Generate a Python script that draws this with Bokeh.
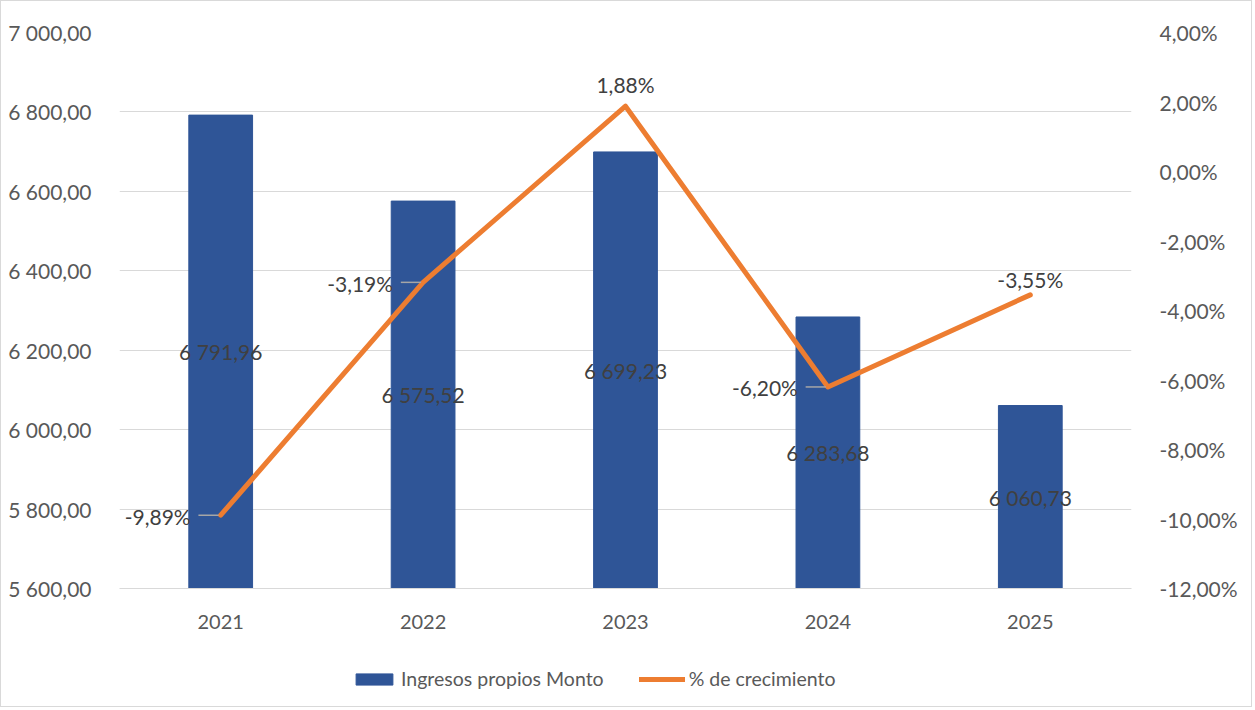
from bokeh.plotting import figure
from bokeh.layouts import column
from bokeh.models import Range1d, LinearAxis, FixedTicker, ColumnDataSource, Legend, LegendItem
from bokeh.embed import file_html
from bokeh.resources import INLINE
from bokeh.core.properties import value

years = ["2021", "2022", "2023", "2024", "2025"]
montos = [6791.96, 6575.52, 6699.23, 6283.68, 6060.73]
crecimiento = [-9.89, -3.19, 1.88, -6.20, -3.55]
left_ticks = [5600, 5800, 6000, 6200, 6400, 6600, 6800, 7000]
right_ticks = [-12, -10, -8, -6, -4, -2, 0, 2, 4]
series_names = ["Ingresos propios Monto", "% de crecimiento"]
pct_label_side = ["left", "left", "above", "left", "above"]
pct_label_lift = [0, 0, -9, 0, -3]

FONT = "Lato"
TXT = "#404040"
AX = "#595959"
BLUE = "#2F5597"
ORANGE = "#ED7D31"
GRID = "#D9D9D9"

def fmt_num(v):
    s = f"{v:,.2f}"
    return s.replace(",", " ").replace(".", ",")

def fmt_pct(v):
    return f"{v:.2f}".replace(".", ",") + "%"

x = list(range(len(years)))
y0 = left_ticks[0]

p = figure(frame_width=1012, frame_height=556, output_backend="svg", toolbar_location=None,
           x_range=Range1d(-0.5, len(years) - 0.5),
           y_range=Range1d(left_ticks[0], left_ticks[-1]),
           min_border_left=118, min_border_right=120, min_border_top=31, min_border_bottom=50)
p.outline_line_color = None
p.extra_y_ranges = {"pct": Range1d(right_ticks[0], right_ticks[-1])}

src = ColumnDataSource(dict(
    x=x, monto=montos, pct=crecimiento,
    mid=[(y0 + v) / 2 for v in montos],
    mlab=[fmt_num(v) for v in montos],
))

p.vbar(x="x", top="monto", bottom=y0, width=0.315, color=BLUE, source=src)
p.line(x="x", y="pct", line_color=ORANGE, line_width=5, line_join="round",
       line_cap="round", y_range_name="pct", source=src)

p.text(x="x", y="mid", text="mlab", source=src, text_align="center", text_baseline="middle",
       text_font=value(FONT), text_font_size="21px", text_color=TXT)

# percentage labels
left_idx = [i for i, s in enumerate(pct_label_side) if s == "left"]
above_idx = [i for i, s in enumerate(pct_label_side) if s == "above"]
lsrc = ColumnDataSource(dict(
    x=[x[i] for i in left_idx], y=[crecimiento[i] for i in left_idx],
    t=[fmt_pct(crecimiento[i]) for i in left_idx],
    x0=[x[i] - 0.11 for i in left_idx], x1=[x[i] - 0.01 for i in left_idx]))
asrc = ColumnDataSource(dict(
    x=[x[i] for i in above_idx], y=[crecimiento[i] for i in above_idx],
    t=[fmt_pct(crecimiento[i]) for i in above_idx],
    off=[pct_label_lift[i] for i in above_idx]))
p.segment(x0="x0", y0="y", x1="x1", y1="y", source=lsrc, line_color="#A6A6A6",
          line_width=1.5, y_range_name="pct")
p.text(x="x", y="y", text="t", source=lsrc, x_offset=-30, y_offset=1, text_align="right",
       text_baseline="middle", text_font=value(FONT), text_font_size="21px", text_color=TXT,
       y_range_name="pct")
p.text(x="x", y="y", text="t", source=asrc, y_offset="off", text_align="center",
       text_baseline="bottom", text_font=value(FONT), text_font_size="21px", text_color=TXT,
       y_range_name="pct")

# axes
p.xaxis.ticker = FixedTicker(ticks=x)
p.xaxis.major_label_overrides = {i: y for i, y in enumerate(years)}
p.yaxis.ticker = FixedTicker(ticks=left_ticks)
p.yaxis.major_label_overrides = {t: fmt_num(t) for t in left_ticks}

ra = LinearAxis(y_range_name="pct", ticker=FixedTicker(ticks=right_ticks))
ra.major_label_overrides = {t: fmt_pct(t) for t in right_ticks}
p.add_layout(ra, "right")

for ax in [p.xaxis[0], p.yaxis[0], ra]:
    ax.major_tick_line_color = None
    ax.minor_tick_line_color = None
    ax.major_label_text_font = FONT
    ax.major_label_text_font_size = "21px"
    ax.major_label_text_color = AX
    ax.major_label_standoff = 22
for ax in [p.yaxis[0], ra]:
    ax.axis_line_color = None
p.xaxis.axis_line_color = GRID
p.xaxis.major_label_text_font_size = "20px"
p.xaxis.major_label_standoff = 20

p.xgrid.grid_line_color = None
p.ygrid.grid_line_color = GRID
p.ygrid.grid_line_width = 1

# legend strip (separate figure so the legend sits inside a frame);
# its proxy glyphs hold one point placed outside the strip's visible range
lg = figure(frame_width=1250, frame_height=68, output_backend="svg", toolbar_location=None,
            min_border=0, x_range=Range1d(0, 1), y_range=Range1d(0, 1))
lg.axis.visible = False
lg.grid.visible = False
lg.outline_line_color = None
rb = lg.vbar(x=[5], top=[5], bottom=[4], width=0.3, color=BLUE)
rl = lg.line(x=[5, 6], y=[5, 5], line_color=ORANGE, line_width=5, line_cap="round")
legend = Legend(items=[LegendItem(label=series_names[0], renderers=[rb]),
                       LegendItem(label=series_names[1], renderers=[rl])],
                orientation="horizontal", location=(350, 16), border_line_color=None,
                label_text_font=FONT, label_text_font_size="19.5px", label_text_color=AX,
                glyph_width=46, glyph_height=14, spacing=35, label_standoff=4,
                margin=0, padding=4, background_fill_alpha=0)
lg.add_layout(legend, "center")

layout = column(p, lg, spacing=0, styles={"border": "1px solid #D9D9D9"})

open("out.html", "w").write(file_html(layout, INLINE))
